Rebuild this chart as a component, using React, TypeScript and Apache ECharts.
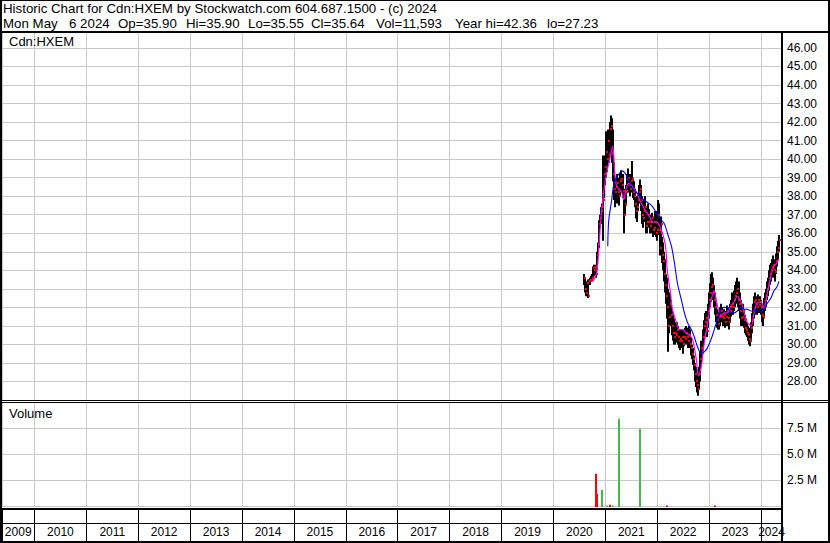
import React, { useEffect, useRef } from "react";
import * as echarts from "echarts";

const headerLine1 = "Historic Chart for Cdn:HXEM by Stockwatch.com 604.687.1500 - (c) 2024";
const headerFields = ["Mon May", "6 2024", "Op=35.90", "Hi=35.90", "Lo=35.55", "Cl=35.64", "Vol=11,593", "Year hi=42.36", "lo=27.23"];
const headerFieldX = [3, 69, 118, 186, 248, 311, 376, 455, 547];
const symbolLabel = "Cdn:HXEM";
const volumeLabel = "Volume";

const yearLabels = [2009, 2010, 2011, 2012, 2013, 2014, 2015, 2016, 2017, 2018, 2019, 2020, 2021, 2022, 2023, 2024];

// weekly bars, first bar's week
const firstWeek = "2020-08-03";
const weeklyHigh = [
  33.8, 33.6, 33.2, 33.4, 33.5, 33.5, 33.6, 33.7, 33.8, 34.2,
  34.3, 34.3, 34.1, 35.0, 35.5, 36.7, 37.0, 37.4, 37.6, 40.2,
  39.6, 40.2, 41.5, 41.2, 41.6, 41.3, 42.0, 42.36, 42.2, 41.6,
  39.8, 39.0, 38.8, 39.2, 39.0, 38.8, 39.2, 39.4, 39.0, 39.2,
  38.4, 38.3, 38.6, 39.2, 39.5, 39.2, 38.9, 39.2, 39.9, 39.0,
  38.8, 38.4, 37.9, 38.0, 38.1, 38.6, 38.9, 38.6, 38.0, 37.6,
  37.8, 38.0, 37.4, 37.2, 37.6, 37.3, 37.0, 36.9, 37.1, 36.8,
  36.9, 37.2, 36.8, 37.2, 37.8, 37.6, 36.8, 36.9, 36.8, 35.8,
  35.5, 35.0, 34.6, 33.8, 33.6, 33.0, 32.4, 32.8, 32.4, 31.8,
  31.6, 31.4, 31.2, 31.0, 31.2, 31.0, 30.8, 30.8, 30.6, 30.8,
  30.6, 30.8, 30.9, 31.0, 30.8, 30.9, 31.0, 30.8, 30.4, 30.0,
  29.8, 29.4, 29.0, 28.8, 28.6, 28.4, 28.8, 29.6, 30.2, 30.0,
  30.8, 31.3, 31.7, 31.8, 31.0, 32.2, 32.8, 33.3, 33.8, 33.9,
  33.6, 33.2, 32.8, 32.3, 31.9, 31.6, 31.8, 32.0, 32.2, 32.0,
  31.8, 31.9, 31.7, 31.8, 32.1, 32.0, 31.8, 32.2, 32.4, 32.8,
  32.6, 32.9, 33.2, 33.4, 33.6, 33.2, 33.4, 32.8, 32.4, 32.0,
  32.2, 31.9, 31.6, 31.4, 31.2, 31.0, 30.9, 30.8, 31.2, 31.7,
  32.2, 32.6, 32.8, 32.6, 32.4, 32.7, 32.5, 32.6, 32.4, 32.2,
  32.0, 32.5, 32.8, 33.0, 33.4, 33.6, 34.0, 34.3, 34.4, 34.6,
  34.8, 34.6, 34.5, 34.9, 35.3, 35.6, 35.9,
];
const weeklyLow = [
  33.2, 32.8, 32.6, 32.7, 32.5, 33.2, 33.2, 33.4, 33.4, 33.6,
  33.7, 33.8, 33.6, 34.0, 34.8, 35.2, 36.3, 36.5, 36.8, 35.6,
  37.9, 38.6, 39.0, 39.3, 39.9, 39.8, 40.3, 40.6, 39.8, 38.8,
  37.8, 37.4, 37.6, 38.0, 37.6, 37.5, 38.0, 38.3, 38.2, 37.9,
  36.0, 37.0, 37.5, 38.3, 38.6, 38.2, 38.0, 38.2, 38.4, 37.9,
  37.8, 37.4, 36.8, 36.6, 37.2, 37.6, 37.8, 37.2, 36.5, 36.3,
  36.6, 36.8, 36.0, 36.0, 36.5, 36.3, 36.0, 36.0, 36.2, 35.8,
  35.9, 36.2, 35.8, 35.6, 36.2, 35.9, 34.8, 35.9, 35.6, 34.4,
  34.0, 33.4, 32.8, 32.2, 31.4, 29.6, 30.6, 31.0, 31.0, 30.5,
  30.2, 30.0, 30.0, 30.1, 30.2, 30.0, 29.8, 29.7, 29.9, 29.8,
  29.5, 29.9, 30.0, 30.1, 30.0, 29.8, 29.9, 29.8, 29.4, 29.2,
  28.9, 28.6, 28.0, 27.7, 27.4, 27.23, 27.6, 28.0, 28.8, 29.4,
  29.6, 30.2, 30.6, 30.8, 30.4, 30.9, 31.4, 32.0, 32.3, 32.6,
  32.4, 32.0, 31.6, 31.2, 30.9, 30.8, 30.8, 31.0, 31.2, 31.2,
  31.0, 31.0, 30.9, 31.0, 31.2, 31.0, 30.8, 31.2, 31.5, 31.6,
  31.6, 31.8, 32.0, 32.2, 32.4, 32.0, 31.8, 31.4, 31.0, 31.0,
  31.3, 30.9, 30.6, 30.5, 30.4, 30.2, 30.0, 29.9, 30.2, 30.6,
  31.0, 31.4, 31.6, 31.8, 31.6, 31.8, 31.7, 31.8, 31.6, 31.2,
  31.0, 31.4, 31.8, 32.0, 32.4, 32.6, 32.9, 33.2, 33.4, 33.6,
  33.8, 33.6, 33.4, 33.8, 34.2, 34.6, 35.0,
];
const weeklyClose = [
  33.6, 33.0, 32.8, 33.3, 32.6, 33.4, 33.5, 33.5, 33.6, 34.1,
  34.0, 34.2, 33.8, 34.8, 35.4, 36.5, 36.8, 37.2, 37.4, 37.8,
  39.2, 39.6, 40.4, 40.0, 41.0, 40.2, 41.6, 41.8, 40.3, 39.2,
  38.4, 38.2, 38.5, 38.7, 38.2, 38.0, 38.8, 38.9, 38.6, 38.3,
  37.0, 37.6, 38.2, 38.9, 39.0, 38.6, 38.4, 38.8, 38.9, 38.2,
  38.0, 37.6, 37.2, 37.4, 37.8, 38.2, 38.4, 37.8, 37.0, 36.8,
  37.2, 37.4, 36.4, 36.6, 37.0, 36.6, 36.4, 36.6, 36.8, 36.2,
  36.3, 36.6, 36.0, 36.2, 37.0, 36.2, 35.2, 36.5, 36.0, 34.8,
  34.5, 33.8, 33.2, 32.6, 32.0, 31.0, 31.5, 32.2, 31.6, 31.0,
  30.6, 30.4, 30.6, 30.5, 30.8, 30.4, 30.2, 30.3, 30.2, 30.4,
  30.0, 30.4, 30.3, 30.6, 30.4, 30.2, 30.5, 30.0, 29.8, 29.5,
  29.2, 28.9, 28.4, 28.0, 27.8, 27.6, 28.4, 29.2, 29.8, 29.6,
  30.4, 31.0, 31.2, 31.4, 30.7, 31.8, 32.4, 32.8, 33.1, 33.2,
  32.8, 32.4, 32.0, 31.6, 31.3, 31.1, 31.5, 31.6, 31.8, 31.5,
  31.4, 31.6, 31.2, 31.5, 31.8, 31.4, 31.2, 31.8, 32.0, 32.2,
  32.0, 32.4, 32.6, 32.8, 33.0, 32.4, 32.2, 31.8, 31.4, 31.5,
  31.8, 31.3, 30.9, 30.8, 30.6, 30.5, 30.3, 30.2, 30.9, 31.3,
  31.8, 32.3, 32.4, 32.2, 32.0, 32.4, 32.1, 32.3, 32.0, 31.6,
  31.5, 32.0, 32.4, 32.6, 33.0, 33.2, 33.6, 33.8, 34.0, 34.2,
  34.3, 34.0, 33.9, 34.5, 35.0, 35.2, 35.64,
];

// short moving average (magenta), week index -> value
const shortMaWeeks = [9, 13, 15, 17, 19, 22, 26, 29, 31, 33, 35, 38, 40, 43, 46, 49, 53, 56, 59, 63, 66, 69, 73, 76, 79, 82, 84, 87, 89, 93, 96, 99, 103, 106, 109, 113, 115, 118, 121, 124, 128, 131, 134, 138, 141, 144, 148, 151, 154, 158, 161, 164, 168, 171, 174, 178, 181, 184, 188, 191, 194, 196];
const shortMaValues = [33.4, 33.9, 35.2, 36.7, 37.8, 39.0, 40.0, 40.7, 39.3, 38.5, 38.4, 38.2, 37.8, 38.5, 38.7, 38.5, 38.2, 37.8, 37.5, 37.1, 36.9, 36.6, 36.6, 36.4, 36.0, 35.3, 33.9, 32.8, 31.9, 31.2, 30.8, 30.8, 30.6, 30.5, 30.3, 29.2, 28.3, 28.8, 30.1, 31.0, 32.4, 32.9, 32.1, 31.5, 31.7, 31.7, 32.1, 32.3, 32.6, 32.3, 31.7, 31.2, 31.0, 31.7, 32.2, 32.3, 31.9, 32.7, 33.7, 34.2, 34.4, 34.6];

// long moving average (blue)
const longMaWeeks = [24, 25, 28, 30, 34, 39, 43, 48, 53, 58, 63, 68, 73, 78, 81, 84, 88, 91, 94, 98, 101, 104, 108, 111, 114, 118, 121, 124, 128, 131, 134, 138, 141, 144, 148, 151, 154, 158, 161, 164, 168, 171, 174, 178, 181, 184, 188, 191, 194, 196];
const longMaValues = [35.3, 36.7, 37.8, 38.6, 39.1, 39.35, 39.1, 38.5, 38.2, 37.9, 37.7, 37.5, 37.1, 36.7, 36.5, 36.0, 35.3, 34.4, 33.3, 32.4, 31.7, 31.2, 30.8, 30.4, 29.9, 29.5, 29.6, 29.8, 30.3, 30.8, 31.3, 31.9, 32.0, 32.0, 31.7, 31.7, 31.8, 32.0, 31.9, 31.9, 31.8, 31.8, 31.8, 31.8, 31.9, 32.2, 32.5, 32.9, 33.1, 33.4];

// volume spikes
const volumeDates = ["2020-10-20", "2020-10-28", "2020-11-30", "2021-01-08", "2021-01-26", "2021-02-16", "2021-03-30", "2021-08-25", "2022-03-04", "2023-02-06"];
const volumeValues = [3090000, 1160000, 1540000, 60000, 120000, 60000, 8400000, 7430000, 50000, 50000];
const volumeSide = ["down", "down", "up", "up", "down", "up", "up", "up", "down", "down"];

const X_MIN = 2009.375;
const X_MAX = 2024.404;
const FONT = '"Liberation Sans", Arial, sans-serif';

function toYear(ms: number): number {
  const d = new Date(ms);
  const y = d.getUTCFullYear();
  const s = Date.UTC(y, 0, 1);
  const e = Date.UTC(y + 1, 0, 1);
  return y + (ms - s) / (e - s);
}
const DAY = 86400000;
const week0 = Date.parse(firstWeek + "T00:00:00Z");
const weekX = (w: number) => toYear(week0 + w * 7 * DAY);

export default function App() {
  const ref = useRef<HTMLDivElement>(null);
  useEffect(() => {
    const chart = echarts.init(ref.current!, null, { renderer: "svg" });
    const bars = weeklyHigh.map((h, i) => [weekX(i), h, weeklyLow[i], weeklyClose[i]]);
    const shortMa = shortMaWeeks.map((w, i) => [weekX(w), shortMaValues[i]]);
    const longMa = longMaWeeks.map((w, i) => [weekX(w), longMaValues[i]]);
    const vols = volumeDates.map((d, i) => [toYear(Date.parse(d + "T00:00:00Z")), volumeValues[i], volumeSide[i] === "up" ? 1 : 0]);
    const years = yearLabels.map((y) => [y]);

    const xBase: any = {
      type: "value", min: X_MIN, max: X_MAX, splitNumber: 15,
      axisLine: { show: false }, axisTick: { show: false }, axisLabel: { show: false },
      splitLine: { show: true, lineStyle: { color: "#c8c8c8", width: 1 } },
    };
    const blk = (x: number, y: number, w: number, h: number) => ({
      type: "rect", shape: { x, y, width: w, height: h }, style: { fill: "#000" }, z: 100, silent: true,
    });
    const txt = (text: string, x: number, y: number, size: number) => ({
      type: "text", x, y, z: 100, silent: true,
      style: { text, fontSize: size, fontFamily: FONT, fill: "#000", verticalAlign: "middle" },
    });

    const option: any = {
      animation: false,
      backgroundColor: "#fff",
      grid: [
        { left: 2, top: 32, width: 780, height: 368 },
        { left: 2, top: 402, width: 780, height: 104 },
        { left: 2, top: 510, width: 780, height: 31 },
      ],
      xAxis: [
        { ...xBase, gridIndex: 0 },
        { ...xBase, gridIndex: 1 },
        { ...xBase, gridIndex: 2, splitLine: { show: true, lineStyle: { color: "#000", width: 1 } } },
      ],
      yAxis: [
        {
          gridIndex: 0, type: "value", position: "right", min: 27, max: 46.86, interval: 1,
          axisLine: { show: false }, axisTick: { show: false },
          axisLabel: { margin: 5, fontSize: 12, fontFamily: FONT, color: "#000", showMinLabel: false, showMaxLabel: false, formatter: (v: number) => v.toFixed(2) },
          splitLine: { show: true, lineStyle: { color: "#c8c8c8", width: 1 } },
        },
        {
          gridIndex: 1, type: "value", position: "right", min: 0, max: 10000000, interval: 2500000,
          axisLine: { show: false }, axisTick: { show: false },
          axisLabel: { margin: 5, fontSize: 12, fontFamily: FONT, color: "#000", showMinLabel: false, showMaxLabel: false, formatter: (v: number) => (v / 1000000).toFixed(1) + " M" },
          splitLine: { show: true, lineStyle: { color: "#c8c8c8", width: 1 } },
        },
        { gridIndex: 2, type: "value", min: 0, max: 1, show: false },
      ],
      series: [
        {
          type: "custom", xAxisIndex: 0, yAxisIndex: 0, data: bars, encode: { x: 0, y: [1, 2] },
          renderItem: (_p: any, api: any) => {
            const x = api.value(0);
            const hi = api.coord([x, api.value(1)]);
            const lo = api.coord([x, api.value(2)]);
            return { type: "rect", shape: { x: Math.round(hi[0]) - 1, y: hi[1], width: 2, height: lo[1] - hi[1] }, style: { fill: "#000" } };
          },
        },
        {
          type: "custom", xAxisIndex: 0, yAxisIndex: 0, data: bars, encode: { x: 0, y: 3 },
          renderItem: (_p: any, api: any) => {
            const x = api.value(0);
            const cl = api.coord([x, api.value(3)]);
            return { type: "rect", shape: { x: Math.round(cl[0]), y: Math.round(cl[1]) - 1, width: 2, height: 2 }, style: { fill: "#ff0000" } };
          },
        },
        {
          type: "line", xAxisIndex: 0, yAxisIndex: 0, data: shortMa, showSymbol: false, smooth: 0.3,
          lineStyle: { color: "#ff00ff", width: 1.2 },
        },
        {
          type: "line", xAxisIndex: 0, yAxisIndex: 0, data: longMa, showSymbol: false, smooth: 0.3,
          lineStyle: { color: "#0000ff", width: 1.1 },
        },
        {
          type: "custom", xAxisIndex: 1, yAxisIndex: 1, data: vols, encode: { x: 0, y: 1 },
          renderItem: (_p: any, api: any) => {
            const x = api.value(0);
            const top = api.coord([x, api.value(1)]);
            const base = api.coord([x, 0]);
            return {
              type: "rect",
              shape: { x: Math.round(top[0]), y: top[1], width: 2, height: base[1] - top[1] + 1 },
              style: { fill: api.value(2) === 1 ? "#44bb44" : "#ff0000" },
            };
          },
        },
        {
          type: "custom", xAxisIndex: 2, yAxisIndex: 2, data: years, encode: { x: 0 },
          renderItem: (_p: any, api: any) => {
            const y = api.value(0);
            const a = api.coord([Math.max(y, X_MIN), 0.3]);
            const b = api.coord([Math.min(y + 1, X_MAX), 0.3]);
            return {
              type: "text", x: (a[0] + b[0]) / 2, y: a[1], z2: 10,
              style: { text: String(y), align: "center", verticalAlign: "middle", fontSize: 12, fontFamily: FONT, fill: "#000" },
            };
          },
        },
      ],
      graphic: [
        blk(0, 0, 2, 543),
        blk(828, 0, 2, 543),
        blk(0, 0, 830, 1),
        blk(0, 541, 830, 2),
        blk(0, 31, 830, 2),
        blk(0, 400, 830, 1),
        blk(0, 402, 830, 1),
        blk(0, 508, 783, 2),
        blk(0, 523, 783, 1),
        blk(781, 31, 2, 512),
        txt(headerLine1, 3, 8.5, 13.3),
        ...headerFields.map((f, i) => txt(f, headerFieldX[i], 23.5, 13.3)),
        txt(symbolLabel, 9, 41, 13),
        txt(volumeLabel, 9, 413.5, 13),
      ],
    };
    chart.setOption(option);
    return () => chart.dispose();
  }, []);
  return <div ref={ref} style={{ position: "fixed", left: 0, top: 0, width: 830, height: 543, background: "#fff" }} />;
}
